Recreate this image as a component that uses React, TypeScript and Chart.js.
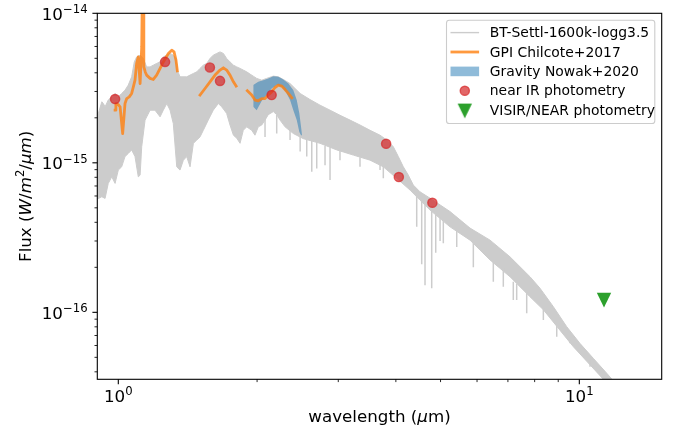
import React, { useEffect, useRef } from 'react';
import { Chart, registerables } from 'chart.js';

Chart.register(...registerables);

// ---------------- data (wavelength in µm, flux in W/m²/µm) ----------------
type P = [number, number];

const modelUpper: P[] = [
  [0.900, 2.14e-15], [0.905, 2.14e-15], [0.921, 2.56e-15], [0.928, 2.49e-15], [0.936, 2.37e-15],
  [0.951, 2.63e-15], [0.968, 2.76e-15], [0.984, 2.91e-15], [1.000, 2.76e-15], [1.017, 2.91e-15],
  [1.034, 3.06e-15], [1.051, 3.31e-15], [1.069, 3.76e-15], [1.083, 4.73e-15], [1.096, 5.11e-15],
  [1.115, 5.25e-15], [1.133, 4.99e-15], [1.152, 4.38e-15], [1.172, 4.38e-15], [1.191, 4.50e-15],
  [1.211, 4.62e-15], [1.232, 4.73e-15], [1.252, 5.11e-15], [1.274, 5.25e-15], [1.295, 5.39e-15],
  [1.316, 5.25e-15], [1.334, 4.99e-15], [1.343, 4.17e-15], [1.361, 3.76e-15], [1.407, 3.76e-15],
  [1.431, 3.86e-15], [1.455, 3.96e-15], [1.480, 4.06e-15], [1.504, 4.28e-15], [1.529, 4.50e-15],
  [1.555, 4.62e-15], [1.581, 4.99e-15], [1.607, 5.25e-15], [1.635, 5.39e-15], [1.662, 5.52e-15],
  [1.690, 5.39e-15], [1.718, 4.99e-15], [1.747, 4.73e-15], [1.777, 4.50e-15], [1.807, 4.38e-15],
  [1.837, 4.28e-15], [1.867, 4.17e-15], [1.899, 4.06e-15], [1.931, 3.92e-15], [1.962, 3.80e-15],
  [1.996, 3.67e-15], [2.047, 3.57e-15], [2.098, 3.67e-15], [2.169, 3.80e-15], [2.224, 3.76e-15],
  [2.280, 3.61e-15], [2.358, 3.39e-15], [2.480, 2.91e-15], [2.605, 2.65e-15], [2.739, 2.43e-15],
  [2.879, 2.25e-15], [3.026, 2.08e-15], [3.182, 1.93e-15], [3.344, 1.79e-15], [3.516, 1.65e-15],
  [3.696, 1.53e-15], [3.822, 1.42e-15], [3.950, 1.28e-15], [4.050, 1.10e-15], [4.152, 9.40e-16],
  [4.257, 8.27e-16], [4.364, 7.10e-16], [4.512, 6.40e-16], [4.744, 5.80e-16], [5.243, 4.72e-16],
  [5.793, 3.66e-16], [6.402, 3.04e-16], [7.074, 2.35e-16], [7.817, 1.73e-16], [8.216, 1.45e-16],
  [8.785, 1.09e-16], [9.392, 8.01e-17], [10.03, 6.20e-17], [10.72, 4.93e-17], [11.47, 3.91e-17],
  [12.88, 2.59e-17], [14.00, 2.00e-17],
];

const modelLower: P[] = [
  [0.900, 5.72e-16], [0.921, 5.93e-16], [0.936, 5.78e-16], [0.951, 7.28e-16], [0.968, 8.06e-16],
  [0.984, 7.28e-16], [1.000, 8.94e-16], [1.017, 9.40e-16], [1.034, 1.10e-15], [1.051, 1.155e-15],
  [1.069, 1.22e-15], [1.087, 1.10e-15], [1.105, 8.06e-16], [1.115, 8.27e-16], [1.124, 1.28e-15],
  [1.143, 1.93e-15], [1.172, 2.25e-15], [1.201, 2.25e-15], [1.232, 2.03e-15], [1.252, 2.25e-15],
  [1.274, 2.49e-15], [1.295, 2.25e-15], [1.316, 1.83e-15], [1.339, 9.40e-16], [1.361, 8.94e-16],
  [1.384, 1.04e-15], [1.407, 1.10e-15], [1.431, 9.40e-16], [1.455, 1.35e-15], [1.480, 1.42e-15],
  [1.504, 1.49e-15], [1.529, 1.65e-15], [1.567, 1.93e-15], [1.607, 2.25e-15], [1.648, 2.49e-15],
  [1.676, 2.37e-15], [1.718, 2.14e-15], [1.747, 1.79e-15], [1.777, 1.53e-15], [1.807, 1.46e-15],
  [1.837, 1.35e-15], [1.867, 1.65e-15], [1.899, 1.74e-15], [1.947, 1.65e-15], [1.979, 1.53e-15],
  [2.012, 1.74e-15], [2.047, 1.79e-15], [2.081, 1.93e-15], [2.115, 2.10e-15], [2.169, 2.20e-15],
  [2.206, 2.10e-15], [2.243, 1.93e-15], [2.300, 1.74e-15], [2.397, 1.57e-15], [2.520, 1.45e-15],
  [2.739, 1.35e-15], [2.977, 1.22e-15], [3.235, 1.126e-15], [3.516, 1.042e-15], [3.757, 9.40e-16],
  [4.018, 7.87e-16], [4.294, 6.57e-16], [4.512, 5.63e-16], [4.744, 4.83e-16], [5.243, 3.73e-16],
  [5.793, 3.04e-16], [6.402, 2.24e-16], [7.074, 1.73e-16], [7.817, 1.27e-16], [8.356, 1.04e-16],
  [9.705, 5.89e-17], [11.27, 3.57e-17], [12.88, 2.50e-17], [14.00, 1.90e-17],
];

// deep narrow absorption lines of the model (wavelength, flux at band edge, flux at line core)
const spikeLambda = [2.081, 2.206, 2.358, 2.480, 2.563, 2.628, 2.694, 2.808, 2.879, 3.026, 3.344, 3.696,
  3.757, 4.439, 4.551, 4.627, 4.784, 4.881, 4.988, 5.070, 5.421, 5.890, 6.508, 6.841, 7.191, 7.314,
  7.689, 8.356, 8.933, 9.546, 10.55];
const spikeTop = [2.0e-15, 2.1e-15, 1.7e-15, 1.5e-15, 1.45e-15, 1.42e-15, 1.38e-15, 1.30e-15, 1.27e-15,
  1.20e-15, 1.09e-15, 9.8e-16, 9.6e-16, 6.0e-16, 5.6e-16, 5.3e-16, 4.8e-16, 4.5e-16, 4.3e-16, 4.2e-16,
  3.5e-16, 2.95e-16, 2.2e-16, 2.0e-16, 1.6e-16, 1.55e-16, 1.35e-16, 1.06e-16, 8.5e-17, 6.5e-17, 4.8e-17];
const spikeBottom = [1.49e-15, 1.57e-15, 1.42e-15, 1.19e-15, 1.10e-15, 8.71e-16, 9.17e-16, 9.65e-16,
  7.66e-16, 1.04e-15, 9.40e-16, 8.94e-16, 7.87e-16, 3.73e-16, 2.1e-16, 1.52e-16, 1.45e-16, 2.5e-16,
  3.0e-16, 2.9e-16, 2.74e-16, 2.0e-16, 1.60e-16, 1.48e-16, 1.21e-16, 1.21e-16, 9.85e-17, 8.88e-17,
  6.87e-17, 6.20e-17, 4.33e-17];

const gpiYJ: P[] = [
  [0.984, 2.25e-15], [0.988, 2.49e-15], [1.000, 2.45e-15], [1.009, 2.37e-15], [1.022, 1.57e-15],
  [1.034, 2.49e-15], [1.043, 2.69e-15], [1.056, 2.76e-15], [1.069, 2.91e-15], [1.078, 3.22e-15],
  [1.087, 3.57e-15], [1.096, 4.62e-15], [1.105, 5.11e-15], [1.115, 3.39e-15], [1.124, 5.96e-15],
  [1.128, 1.6e-14], [1.132, 1.6e-14], [1.136, 4.38e-15], [1.144, 4.05e-15], [1.152, 3.86e-15],
  [1.172, 3.67e-15], [1.191, 3.61e-15], [1.211, 3.86e-15], [1.232, 4.28e-15], [1.252, 4.73e-15],
  [1.284, 5.39e-15], [1.306, 5.67e-15], [1.321, 5.52e-15], [1.334, 4.86e-15], [1.343, 4.12e-15],
];
const gpiH: P[] = [
  [1.504, 2.84e-15], [1.542, 3.14e-15], [1.581, 3.48e-15], [1.621, 3.86e-15], [1.662, 4.17e-15],
  [1.690, 4.32e-15], [1.718, 4.17e-15], [1.747, 3.86e-15], [1.777, 3.48e-15], [1.801, 3.26e-15],
];
const gpiK: P[] = [
  [1.905, 3.03e-15], [1.947, 2.84e-15], [1.979, 2.63e-15], [2.012, 2.60e-15], [2.047, 2.69e-15],
  [2.081, 2.69e-15], [2.115, 2.84e-15], [2.151, 2.98e-15], [2.187, 3.19e-15], [2.224, 3.31e-15],
  [2.262, 3.26e-15], [2.300, 3.09e-15], [2.338, 2.91e-15], [2.378, 2.72e-15],
];

const gravityUpper: P[] = [
  [1.962, 3.31e-15], [2.012, 3.48e-15], [2.063, 3.57e-15], [2.115, 3.67e-15], [2.169, 3.80e-15],
  [2.224, 3.76e-15], [2.280, 3.61e-15], [2.338, 3.39e-15], [2.397, 3.06e-15], [2.438, 2.63e-15],
  [2.470, 2.14e-15], [2.491, 1.74e-15], [2.503, 1.53e-15],
];
const gravityLower: P[] = [
  [1.962, 2.37e-15], [1.996, 2.25e-15], [2.047, 2.60e-15], [2.098, 2.84e-15], [2.151, 3.14e-15],
  [2.206, 3.31e-15], [2.262, 3.22e-15], [2.310, 2.98e-15], [2.358, 2.63e-15], [2.397, 2.25e-15],
  [2.438, 1.93e-15], [2.470, 1.61e-15], [2.491, 1.53e-15], [2.503, 1.53e-15],
];

const nirLambda = [0.984, 1.263, 1.580, 1.662, 2.151, 3.810, 4.060, 4.800];
const nirFlux = [2.67e-15, 4.73e-15, 4.34e-15, 3.53e-15, 2.84e-15, 1.34e-15, 8.03e-16, 5.40e-16];

const visirLambda = [11.31];
const visirFlux = [1.21e-16];

const legendLabels = [
  'BT-Settl-1600k-logg3.5',
  'GPI Chilcote+2017',
  'Gravity Nowak+2020',
  'near IR photometry',
  'VISIR/NEAR photometry',
];

const xRange = [0.9004, 15.09];
const yRange = [3.565e-17, 1e-14];
const xMajorTicks = [1, 10];
const xTickExp = ['0', '1'];
const xMinorTicks = [2, 3, 4, 5, 6, 7, 8, 9];
const yMajorTicks = [1e-16, 1e-15, 1e-14];
const yTickExp = ['\u221216', '\u221215', '\u221214'];
const yMinorTicks = [4e-17, 5e-17, 6e-17, 7e-17, 8e-17, 9e-17,
  2e-16, 3e-16, 4e-16, 5e-16, 6e-16, 7e-16, 8e-16, 9e-16,
  2e-15, 3e-15, 4e-15, 5e-15, 6e-15, 7e-15, 8e-15, 9e-15];

// ---------------- styles ----------------
const FAM = '"DejaVu Sans", "Liberation Sans", sans-serif';
const GRAY = '#cccccc';
const ORANGE = 'rgba(255,127,14,0.8)';
const BLUE = 'rgba(31,119,180,0.5)';
const RED = 'rgba(214,39,40,0.7)';
const GREEN = '#2ca02c';

const toXY = (a: P[]) => a.map(([x, y]) => ({ x, y }));

type Seg = { t: string; it?: boolean; sup?: boolean };

function drawSegs(ctx: CanvasRenderingContext2D, segs: Seg[], x: number, y: number,
  align: 'left' | 'center' | 'right', size: number) {
  const font = (s: Seg) => `${s.it ? 'italic ' : ''}${s.sup ? size * 0.7 : size}px ${FAM}`;
  const widths = segs.map((s) => { ctx.font = font(s); return ctx.measureText(s.t).width; });
  const total = widths.reduce((a, b) => a + b, 0);
  let cx = align === 'left' ? x : align === 'center' ? x - total / 2 : x - total;
  ctx.textAlign = 'left';
  ctx.textBaseline = 'alphabetic';
  segs.forEach((s, i) => {
    ctx.font = font(s);
    ctx.fillText(s.t, cx, s.sup ? y - size * 0.4 : y);
    cx += widths[i];
  });
}

function makeTriangle(): HTMLCanvasElement {
  const c = document.createElement('canvas');
  c.width = 16; c.height = 16;
  const g = c.getContext('2d')!;
  g.fillStyle = GREEN;
  g.beginPath();
  g.moveTo(0.8, 0.7); g.lineTo(15.2, 0.7); g.lineTo(8, 15.4); g.closePath();
  g.fill();
  return c;
}

const decorPlugin = {
  id: 'decor',
  afterDraw(chart: any) {
    const ctx: CanvasRenderingContext2D = chart.ctx;
    const { left, right, top, bottom } = chart.chartArea;
    const xs = chart.scales.x;
    const ys = chart.scales.y;
    const tri: HTMLCanvasElement = chart.$tri;
    ctx.save();
    ctx.fillStyle = '#000';
    ctx.strokeStyle = '#000';

    const line = (x1: number, y1: number, x2: number, y2: number, w: number) => {
      ctx.lineWidth = w;
      ctx.beginPath(); ctx.moveTo(x1, y1); ctx.lineTo(x2, y2); ctx.stroke();
    };

    // frame
    ctx.lineWidth = 1.1;
    ctx.strokeRect(left, top, right - left, bottom - top);

    // x ticks
    xMajorTicks.forEach((v, i) => {
      const p = xs.getPixelForValue(v);
      line(p, bottom, p, bottom + 4.9, 1.1);
      drawSegs(ctx, [{ t: '10' }, { t: xTickExp[i], sup: true }], p, bottom + 22.8, 'center', 16.7);
    });
    xMinorTicks.forEach((v) => {
      const p = xs.getPixelForValue(v);
      if (p >= left && p <= right) line(p, bottom, p, bottom + 2.8, 0.85);
    });
    // y ticks
    yMajorTicks.forEach((v, i) => {
      const p = ys.getPixelForValue(v);
      line(left, p, left - 4.9, p, 1.1);
      drawSegs(ctx, [{ t: '10' }, { t: yTickExp[i], sup: true }], left - 9.7, p + 6.6, 'right', 16.7);
    });
    yMinorTicks.forEach((v) => {
      const p = ys.getPixelForValue(v);
      if (p >= top && p <= bottom) line(left, p, left - 2.8, p, 0.85);
    });

    // axis labels
    drawSegs(ctx, [{ t: 'wavelength (' }, { t: '\u03bc', it: true }, { t: 'm)' }],
      (left + right) / 2, 421.5, 'center', 16.7);
    ctx.save();
    ctx.translate(30.8, (top + bottom) / 2);
    ctx.rotate(-Math.PI / 2);
    drawSegs(ctx, [
      { t: 'Flux (' }, { t: 'W', it: true }, { t: '/' }, { t: 'm', it: true }, { t: '2', sup: true },
      { t: '/' }, { t: '\u03bcm', it: true }, { t: ')' },
    ], 0, 0, 'center', 16.7);
    ctx.restore();

    // legend
    const bw = 208.3, bh = 103.3;
    const bx = right - 6.9 - bw, by = top + 6.9, r = 2.8;
    ctx.beginPath();
    ctx.moveTo(bx + r, by);
    ctx.arcTo(bx + bw, by, bx + bw, by + bh, r);
    ctx.arcTo(bx + bw, by + bh, bx, by + bh, r);
    ctx.arcTo(bx, by + bh, bx, by, r);
    ctx.arcTo(bx, by, bx + bw, by, r);
    ctx.closePath();
    ctx.fillStyle = 'rgba(255,255,255,0.8)';
    ctx.fill();
    ctx.strokeStyle = GRAY;
    ctx.lineWidth = 1.1;
    ctx.stroke();

    const hx0 = bx + 4, hx1 = bx + 32.6, hc = (hx0 + hx1) / 2;
    const rowY = (i: number) => by + 12.4 + i * 19.4;
    // handles
    ctx.strokeStyle = 'rgba(128,128,128,0.4)';
    line(hx0, rowY(0), hx1, rowY(0), 1.4);
    ctx.strokeStyle = ORANGE;
    ctx.lineCap = 'butt';
    line(hx0, rowY(1), hx1, rowY(1), 2.8);
    ctx.fillStyle = BLUE;
    ctx.fillRect(hx0, rowY(2) - 4.8, hx1 - hx0, 9.6);
    ctx.beginPath();
    ctx.arc(hc, rowY(3), 4.6, 0, Math.PI * 2);
    ctx.fillStyle = RED;
    ctx.fill();
    ctx.strokeStyle = RED;
    ctx.lineWidth = 1.4;
    ctx.stroke();
    if (tri) ctx.drawImage(tri, hc - tri.width / 2, rowY(4) + 0.6 - tri.height / 2);
    // labels
    ctx.fillStyle = '#000';
    legendLabels.forEach((t, i) => {
      drawSegs(ctx, [{ t }], bx + 43.3, rowY(i) + 4.6, 'left', 13.9);
    });
    ctx.restore();
  },
};

export default function App() {
  const ref = useRef<HTMLCanvasElement | null>(null);

  useEffect(() => {
    if (!ref.current) return;
    const tri = makeTriangle();

    const gpiData = [
      ...toXY(gpiYJ), { x: 1.42, y: null },
      ...toXY(gpiH), { x: 1.85, y: null },
      ...toXY(gpiK),
    ];
    const spikeData = spikeLambda.flatMap((l, i) => [
      { x: l, y: spikeTop[i] }, { x: l, y: spikeBottom[i] }, { x: l, y: null },
    ]);

    const chart = new Chart(ref.current, {
      type: 'line',
      data: {
        datasets: [
          {
            label: 'model upper', data: toXY(modelUpper), borderColor: GRAY, borderWidth: 1,
            backgroundColor: GRAY, fill: '+1', pointRadius: 0, order: 10, clip: 0,
          },
          {
            label: 'model lower', data: toXY(modelLower), borderColor: GRAY, borderWidth: 1,
            pointRadius: 0, fill: false, order: 10, clip: 0,
          },
          {
            label: 'model lines', data: spikeData, borderColor: GRAY, borderWidth: 1.5,
            pointRadius: 0, fill: false, spanGaps: false, order: 9, clip: 0,
          },
          {
            label: 'gravity upper', data: toXY(gravityUpper), borderColor: 'transparent', borderWidth: 1,
            backgroundColor: BLUE, fill: '+1', pointRadius: 0, order: 8, clip: 0,
          },
          {
            label: 'gravity lower', data: toXY(gravityLower), borderColor: 'transparent', borderWidth: 1,
            pointRadius: 0, fill: false, order: 8, clip: 0,
          },
          {
            label: 'GPI', data: gpiData, borderColor: ORANGE, borderWidth: 2.8, pointRadius: 0,
            fill: false, spanGaps: false, borderJoinStyle: 'round', borderCapStyle: 'square',
            order: 7, clip: 0,
          },
          {
            label: 'near IR', data: nirLambda.map((x, i) => ({ x, y: nirFlux[i] })), showLine: false,
            pointRadius: 4.6, pointBackgroundColor: RED, pointBorderColor: RED, pointBorderWidth: 1.4,
            order: 6,
          },
          {
            label: 'VISIR', data: visirLambda.map((x, i) => ({ x, y: visirFlux[i] })), showLine: false,
            pointRadius: 7, pointStyle: tri, order: 5,
          },
        ] as any,
      },
      options: {
        animation: false,
        responsive: false,
        maintainAspectRatio: false,
        events: [],
        layout: { autoPadding: false, padding: { left: 0, top: 13.3, right: 16.3, bottom: 0 } },
        plugins: { legend: { display: false }, tooltip: { enabled: false }, title: { display: false } },
        scales: {
          x: {
            type: 'logarithmic', min: xRange[0], max: xRange[1],
            grid: { display: false }, border: { display: false }, ticks: { display: false },
            afterFit: (s: any) => { s.height = 52.7; },
          },
          y: {
            type: 'logarithmic', min: yRange[0], max: yRange[1],
            grid: { display: false }, border: { display: false }, ticks: { display: false },
            afterFit: (s: any) => { s.width = 97.3; },
          },
        },
      } as any,
      plugins: [decorPlugin as any],
    });
    (chart as any).$tri = tri;
    chart.draw();

    return () => { chart.destroy(); };
  }, []);

  return (
    <div style={{ position: 'absolute', left: 0, top: 0, width: 678, height: 432, background: '#fff' }}>
      <canvas ref={ref} width={678} height={432} style={{ width: 678, height: 432, display: 'block' }} />
    </div>
  );
}
